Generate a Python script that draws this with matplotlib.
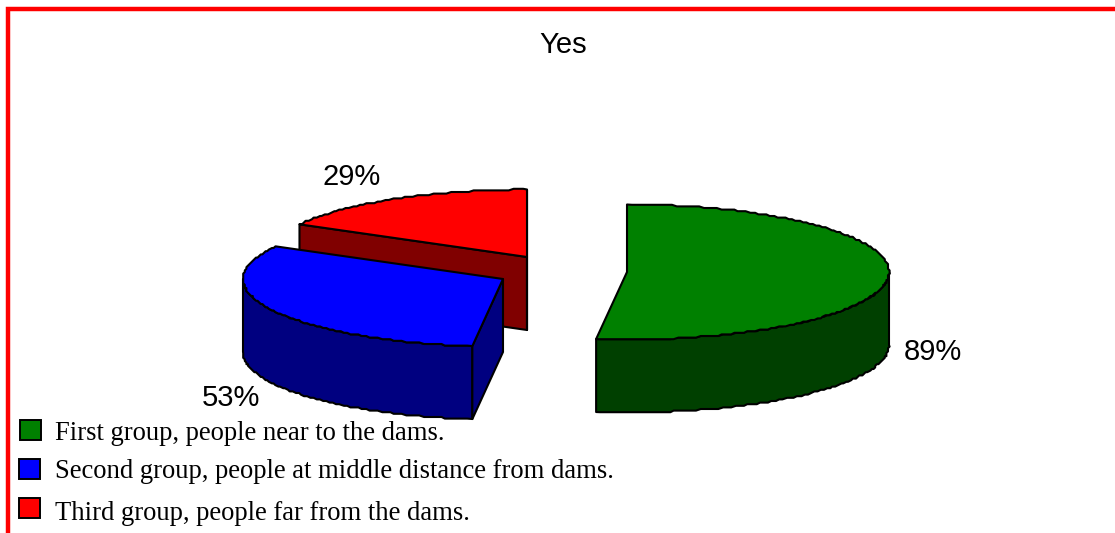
import numpy as np
import matplotlib
matplotlib.use("Agg")
import matplotlib.pyplot as plt
from matplotlib.patches import Polygon, Rectangle

title = "Yes"
groups = ["First group, people near to the dams.",
          "Second group, people at middle distance from dams.",
          "Third group, people far from the dams."]
values = [89, 53, 29]
top_colors = ["#008000", "#0000ff", "#ff0000"]
side_colors = ["#004000", "#000080", "#800000"]

# layout in pixels
apexes = [(627, 272), (503, 279), (527, 257)]
radii_x = [262, 260, 260]
label_pos = [(933, 352), (231, 398), (352, 177)]
legend_box = [(20, 420), (19, 459), (19, 498)]
legend_text_y = [434, 472, 513]
RY, DEPTH = 67.5, 73
BOUNDARY_TRIM = 0.6  # degrees, first cut as drawn in the source
SNAP = 1.6

fig = plt.figure(figsize=(11.15, 5.33), dpi=100)
ax = fig.add_axes([0, 0, 1, 1])
ax.set_xlim(0, 1115)
ax.set_ylim(533, 0)
ax.axis("off")

# frame
ax.plot([8, 8, 1115], [533, 8.5, 8.5], color="#ff0000", lw=3.2,
        solid_joinstyle="miter", solid_capstyle="butt")

fractions = np.array(values) / sum(values)
ends = np.cumsum(fractions) * 360
starts = ends - fractions * 360
ends[0] -= BOUNDARY_TRIM
starts[1] -= BOUNDARY_TRIM


def rim(cx, cy, rx, a0, a1, dy=0):
    # angles clockwise from 12 o'clock, degrees; rim is slightly stepped like the source
    n = max(2, int(abs(a1 - a0) / 1.0) + 1)
    a = np.radians(np.linspace(a0, a1, n))
    pts = np.column_stack([cx + rx * np.sin(a), cy - RY * np.cos(a)])
    pts[1:-1] = np.round(pts[1:-1] / SNAP) * SNAP
    pts[:, 1] += dy
    return pts


kw = dict(edgecolor="black", lw=1.5, joinstyle="round")
# painter's order: back to front
for i in [2, 1, 0]:
    cx, cy = apexes[i]
    rx = radii_x[i]
    a0, a1 = starts[i], ends[i]
    # curved outer wall (front half of the ellipse only)
    w0, w1 = max(a0, 90), min(a1, 270)
    if w1 > w0:
        top = rim(cx, cy, rx, w0, w1)
        bottom = rim(cx, cy, rx, w0, w1, DEPTH)[::-1]
        ax.add_patch(Polygon(np.vstack([top, bottom]), facecolor=side_colors[i], **kw))
    # cut faces
    for ang in (a0, a1):
        p = rim(cx, cy, rx, ang, ang)[0]
        is_visible = (i == 1 and ang == a0) or (i == 2)
        if is_visible:
            ax.add_patch(Polygon([(cx, cy), p, (p[0], p[1] + DEPTH), (cx, cy + DEPTH)],
                                 facecolor=side_colors[i], **kw))
    # top face
    ax.add_patch(Polygon(np.vstack([[(cx, cy)], rim(cx, cy, rx, a0, a1)]),
                         facecolor=top_colors[i], **kw))
    ax.text(*label_pos[i], f"{values[i]}%", fontsize=21, family="Liberation Sans",
            ha="center", va="center", color="black")

ax.text(563, 45, title, fontsize=21, family="Liberation Sans", ha="center", va="center")

for (x, y), ty, name, c in zip(legend_box, legend_text_y, groups, top_colors):
    ax.add_patch(Rectangle((x, y), 21, 20, facecolor=c, edgecolor="black", lw=1.4))
    ax.text(55, ty, name, fontsize=19.2, family="Liberation Serif",
            ha="left", va="center", color="black")

fig.savefig("out.png", dpi=100)
